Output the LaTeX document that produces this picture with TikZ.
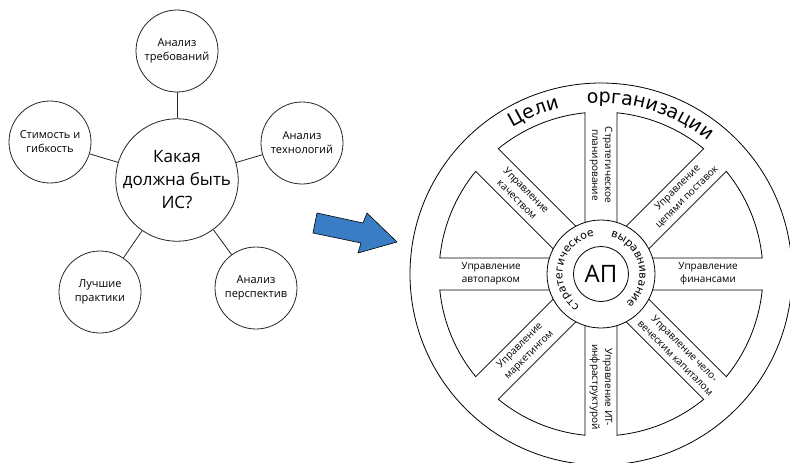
\documentclass[tikz,border=0pt]{standalone}
\usepackage{fontspec}
\setmainfont{Open Sans}
\newfontfamily\ringfont{DejaVu Sans}
\usetikzlibrary{calc,decorations.text}
\definecolor{arrowblue}{RGB}{58,125,196}

\begin{document}
\begin{tikzpicture}[
  x=1pt, y=1pt,
  line width=0.8pt,
  font=\fontsize{11}{14}\selectfont,
  topic/.style={draw=black!85, circle, minimum size=82pt, inner sep=0pt, align=center},
  hub/.style={draw=black!85, circle, minimum size=122pt, inner sep=0pt, align=center, font=\fontsize{17}{23}\selectfont},
  link/.style={draw=black!85},
  spoke/.style={align=center, font=\fontsize{10}{13}\selectfont},
  ringtext/.style={decorate, decoration={text along path, text align=center, text={#1}}}
]
\useasboundingbox (0,0) rectangle (790,-463);

% left: what the IS should be
\node[hub] (is) at (177,-180) {Какая\\должна быть\\ИС?};
\node[topic] (req) at (177,-51) {Анализ\\требований};
\node[topic] (tech) at (302,-143) {Анализ\\технологий};
\node[topic] (persp) at (256,-288) {Анализ\\перспектив};
\node[topic] (best) at (100,-292) {Лучшие\\практики};
\node[topic] (cost) at (50,-142) {Стимость и\\гибкость};
\draw[link] (is) -- (req);
\draw[link] (is) -- (tech);
\draw[link] (is) -- (persp);
\draw[link] (is) -- (best);
\draw[link] (is) -- (cost);

% blue arrow
\draw[fill=arrowblue, line width=0.6pt] (317,-213) -- (363,-223) -- (367,-213) -- (397,-242)
  -- (358,-253) -- (361,-243) -- (313,-233) -- cycle;

% wheel
\coordinate (c) at (601,-274);
\draw (c) circle[radius=191];
\draw (c) circle[radius=54];
\node[draw, circle, minimum size=55pt, inner sep=0pt, font=\fontsize{24}{24}\selectfont] (ap) at (c) {АП};
\foreach \a in {0,45,...,315}
  \draw ($(c)+(\a+17.2:54)$) -- ($(c)+(\a+5.67:162)$)
    arc[start angle=\a+5.67, end angle=\a+39.33, radius=162] -- ($(c)+(\a+27.8:54)$);

\node[spoke, rotate=-90] (plan) at ($(c)+(90:109)$) {Стратегическое\\планирование};
\node[spoke, rotate=45] (supply) at ($(c)+(45:115)$) {Управление\\цепями поставок};
\node[spoke] (fin) at ($(c)+(0:107)$) {Управление\\финансами};
\node[spoke, rotate=-45] (hr) at ($(c)+(-45:112)$) {Управление чело-\\веческим капиталом};
\node[spoke, rotate=-90] (it) at ($(c)+(-90:113)$) {Управление ИТ-\\инфраструктурой};
\node[spoke, rotate=45] (mkt) at ($(c)+(225:108)$) {Управление\\маркетингом};
\node[spoke] (fleet) at ($(c)+(180:110)$) {Управление\\автопарком};
\node[spoke, rotate=-45] (qual) at ($(c)+(135:112)$) {Управление\\качеством};

% curved captions
\path[ringtext={|\ringfont\fontsize{19}{19}\selectfont|Цели}] ($(c)+(135:171)$)
  arc[start angle=135, end angle=90, radius=171];
\path[ringtext={|\ringfont\fontsize{19}{19}\selectfont|организации}] ($(c)+(100:171)$)
  arc[start angle=100, end angle=46, radius=171];
\path[ringtext={|\ringfont\fontsize{11}{11}\selectfont|стратегическое}] ($(c)+(250:38.5)$)
  arc[start angle=250, end angle=86, radius=38.5];
\path[ringtext={|\ringfont\fontsize{11}{11}\selectfont|выравнивание}] ($(c)+(80:38.5)$)
  arc[start angle=80, end angle=-54, radius=38.5];
\end{tikzpicture}
\end{document}
